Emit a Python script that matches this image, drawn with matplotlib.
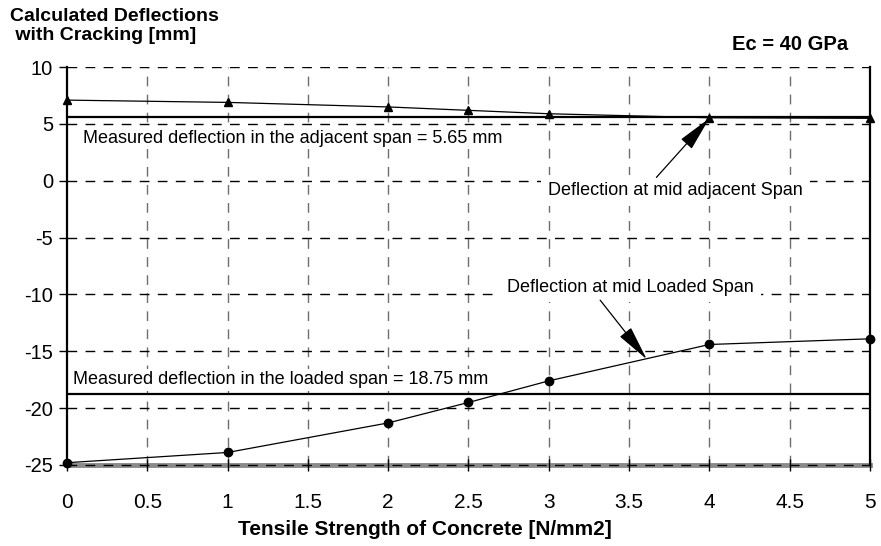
import numpy as np
import matplotlib.pyplot as plt

plt.rcParams["font.family"] = ["Liberation Sans", "DejaVu Sans"]
plt.rcParams["axes.unicode_minus"] = False

strength = np.array([0, 1, 2, 2.5, 3, 4, 5])
adjacent_defl = np.array([7.1, 6.9, 6.5, 6.2, 5.9, 5.55, 5.5])
loaded_defl = np.array([-24.8, -23.9, -21.3, -19.5, -17.6, -14.4, -13.9])
measured_adjacent = 5.65
measured_loaded = -18.75
x_ticks = [0, 0.5, 1, 1.5, 2, 2.5, 3, 3.5, 4, 4.5, 5]
x_ticklabels = ["0", "0.5", "1", "1.5", "2", "2.5", "3", "3.5", "4", "4.5", "5"]
y_ticks = [10, 5, 0, -5, -10, -15, -20, -25]

fig = plt.figure(figsize=(8.81, 5.46), dpi=100)
ax = fig.add_axes([0.076, 0.1484, 0.9115, 0.7286])

# grid
for xv in x_ticks[1:-1]:
    ax.axvline(xv, color="#6e6e6e", lw=1, dashes=(7, 6), zorder=1)
for yv in y_ticks[:-1]:
    ax.axhline(yv, color="black", lw=1, dashes=(7, 6), zorder=1)
ax.axhline(-25, color="#8a8a8a", lw=3.5, zorder=1, clip_on=False)
ax.axhline(-25, color="black", lw=1, dashes=(7, 6), zorder=1.5, clip_on=False)

# measured deflections
ax.axhline(measured_adjacent, color="black", lw=1.6, zorder=2)
ax.axhline(measured_loaded, color="black", lw=1.6, zorder=2)

# calculated deflections
ax.plot(strength, adjacent_defl, color="black", lw=0.9, marker="^", ms=6,
        clip_on=False, zorder=4)
ax.plot(strength, loaded_defl, color="black", lw=0.9, marker="o", ms=6,
        clip_on=False, zorder=4)

box = dict(facecolor="white", edgecolor="none", pad=2)
ax.text(0.1, 3.75, "Measured deflection in the adjacent span = 5.65 mm",
        fontsize=13, va="center", ha="left", bbox=box, zorder=3)
ax.text(0.04, -17.5, "Measured deflection in the loaded span = 18.75 mm",
        fontsize=13, va="center", ha="left", bbox=box, zorder=3)

arrow = dict(arrowstyle="-|>,head_length=2.2,head_width=0.45", color="black",
             lw=0.9, shrinkA=0, shrinkB=0)
ax.annotate("", xy=(4, 5.5), xytext=(3.67, 0.3), arrowprops=arrow, zorder=5)
ax.text(3.79, -0.85, "Deflection at mid adjacent Span", fontsize=13,
        ha="center", va="center", bbox=dict(facecolor="white", edgecolor="none", pad=5),
        zorder=3)
ax.annotate("", xy=(3.61, -15.7), xytext=(3.32, -10.5), arrowprops=arrow, zorder=5)
ax.text(3.51, -9.35, "Deflection at mid Loaded Span", fontsize=13,
        ha="center", va="center", bbox=dict(facecolor="white", edgecolor="none", pad=5),
        zorder=3)

ax.set_xlim(0, 5)
ax.set_ylim(-25, 10)
ax.set_xticks(x_ticks)
ax.set_xticklabels(x_ticklabels)
ax.set_yticks(y_ticks)
ax.tick_params(axis="x", direction="inout", length=8, width=1, pad=16, labelsize=15)
ax.tick_params(axis="y", direction="out", length=6, width=1, pad=4, labelsize=14.5)

ax.spines["top"].set_visible(False)
ax.spines["bottom"].set_visible(False)
ax.spines["left"].set_linewidth(1.6)
ax.spines["right"].set_linewidth(1.6)

fig.text(0.482, 0.031, "Tensile Strength of Concrete [N/mm2]", fontsize=15,
         fontweight="bold", ha="center", va="center")
fig.text(0.011, 0.985, "Calculated Deflections\n with Cracking [mm]",
         fontsize=14, fontweight="bold", ha="left", va="top", linespacing=1.15)
fig.text(0.963, 0.902, "Ec = 40 GPa", fontsize=14.5, fontweight="bold",
         ha="right", va="bottom")

fig.savefig("out.png", dpi=100)
